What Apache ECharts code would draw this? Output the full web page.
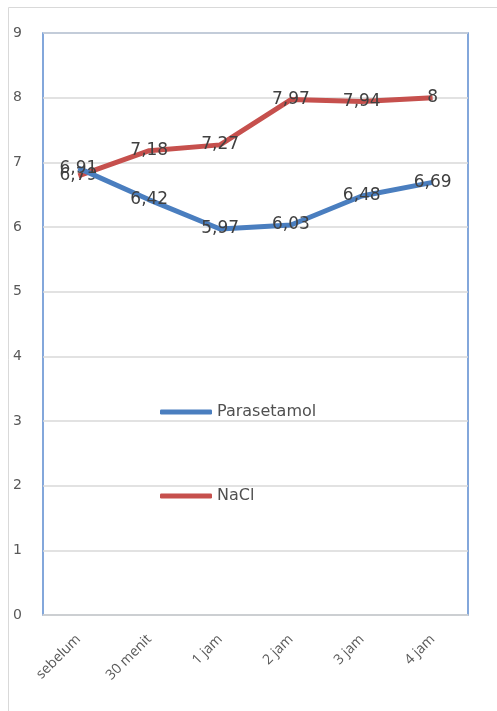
<!DOCTYPE html>
<html><head><meta charset="utf-8">
<script src="https://cdn.jsdelivr.net/npm/echarts@6/dist/echarts.min.js"></script>
<style>html,body{margin:0;padding:0;background:#fff}#c{width:497px;height:711px}</style>
</head><body><div id="c"></div>
<script>
const categories = ['sebelum','30 menit','1 jam','2 jam','3 jam','4 jam'];
const parasetamol = [6.91, 6.42, 5.97, 6.03, 6.48, 6.69];
const nacl = [6.79, 7.18, 7.27, 7.97, 7.94, 8];
const yTicks = [0,1,2,3,4,5,6,7,8,9];

const chart = echarts.init(document.getElementById('c'), null, {renderer:'canvas'});
const lbl = {
  show: true, position: 'inside', color: '#404040',
  fontFamily: 'DejaVu Sans', fontSize: 17,
  formatter: p => String(p.value).replace('.', ',')
};
chart.setOption({
  animation: false,
  graphic: [{type:'rect', shape:{x:8.5,y:7.5,width:600,height:800}, style:{fill:'none',stroke:'#d9d9d9',lineWidth:1}, silent:true, z:-10}],
  grid: {left:43, right:29, top:33, bottom:96, show:true, borderColor:'#5b8bd0', borderWidth:1.5, backgroundColor:'transparent'},
  legend: [
    {data:['Parasetamol'], orient:'vertical', left:155, top:399, icon:'roundRect', itemWidth:52, itemHeight:5, itemGap:6,
      textStyle:{color:'#505050', fontFamily:'DejaVu Sans', fontSize:16}},
    {data:['NaCl'], orient:'vertical', left:155, top:483, icon:'roundRect', itemWidth:52, itemHeight:5, itemGap:6,
      textStyle:{color:'#505050', fontFamily:'DejaVu Sans', fontSize:16}}
  ],
  xAxis: {
    type:'category', data:categories, boundaryGap:true,
    axisLine:{show:true, lineStyle:{color:'#d0d0d0', width:1.5}},
    axisTick:{show:false},
    axisLabel:{rotate:45, margin:22, color:'#595959', fontFamily:'Open Sans', fontSize:14}
  },
  yAxis: {
    type:'value', min:yTicks[0], max:yTicks[yTicks.length-1], interval:1,
    axisLine:{show:false}, axisTick:{show:false},
    axisLabel:{margin:30, color:'#595959', fontFamily:'DejaVu Sans', fontSize:14, align:'left',
      formatter: v => yTicks.includes(v) ? String(v) : ''},
    splitLine:{show:true, lineStyle:{color:'#d9d9d9', width:1.5}}
  },
  series: [
    {name:'Parasetamol', type:'line', data:parasetamol, symbol:'circle', symbolSize:0.1, showAllSymbol:true, z:3,
      lineStyle:{color:'#4a7ebf', width:5}, itemStyle:{color:'#4a7ebf'}, label:lbl},
    {name:'NaCl', type:'line', data:nacl, symbol:'circle', symbolSize:0.1, showAllSymbol:true, z:2,
      lineStyle:{color:'#c6504d', width:5}, itemStyle:{color:'#c6504d'}, label:lbl}
  ]
});
</script></body></html>
